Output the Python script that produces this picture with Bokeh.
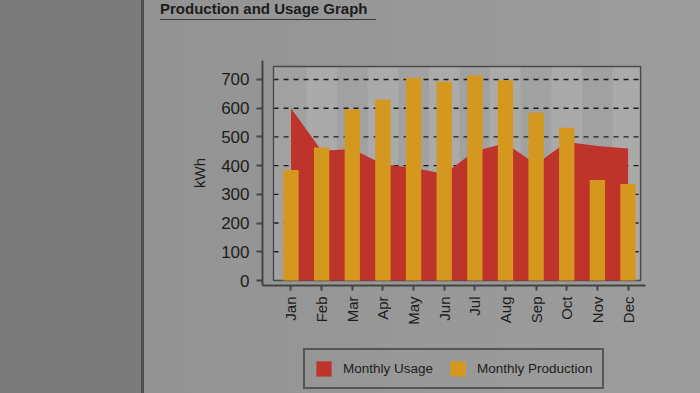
import math
from bokeh.plotting import figure
from bokeh.layouts import column
from bokeh.models import Range1d, FixedTicker, Legend, LegendItem, Div
from bokeh.embed import file_html
from bokeh.resources import INLINE

months = ["Jan", "Feb", "Mar", "Apr", "May", "Jun", "Jul", "Aug", "Sep", "Oct", "Nov", "Dec"]
usage = [600, 452, 458, 405, 392, 372, 450, 478, 405, 482, 468, 460]
production = [385, 463, 595, 630, 705, 692, 714, 697, 584, 532, 350, 336]
y_ticks = [0, 100, 200, 300, 400, 500, 600, 700]
grid_values = [100, 200, 300, 400, 500, 600, 700]
series_names = ["Monthly Usage", "Monthly Production"]

RED = "#be342a"
ORANGE = "#d5981e"
TXT = "#1c1c1c"

xs = list(range(len(months)))

title = Div(text="Production and Usage Graph", width=216, height=20, margin=(0, 0, 0, 160),
            styles={"font-family": "Liberation Sans", "font-size": "15px",
                    "font-weight": "bold", "color": TXT, "line-height": "18px",
                    "border-bottom": "1.2px solid #3a3a3a"})

p = figure(width=700, height=320, output_backend="svg", toolbar_location=None,
           x_range=Range1d(-0.93, 11.57), y_range=Range1d(-17.4, 766),
           min_border_left=262, min_border_right=55, min_border_top=40, min_border_bottom=55,
           background_fill_alpha=0, border_fill_alpha=0, outline_line_color=None)
p.grid.visible = False

# inner plot box
IL, IR, IT = -0.57, 11.41, 745
p.quad(left=IL, right=IR, bottom=0, top=IT, fill_color="#aaaaaa", line_color=None)
band_l = [max(i - 0.5, IL) for i in xs[::2]]
band_r = [i + 0.5 for i in xs[::2]]
p.quad(left=band_l, right=band_r, bottom=0, top=IT, fill_color="#a1a1a1", line_color=None)
p.segment(x0=IL, x1=IR, y0=grid_values, y1=grid_values, line_color="#1a1a1a",
          line_width=1.4, line_dash="5 5")
p.quad(left=IL, right=IR, bottom=0, top=IT, fill_color=None, line_color="#4a4a4a", line_width=1.5)

area = p.varea(x=xs, y1=0, y2=usage, fill_color=RED)
bars = p.vbar(x=xs, top=production, width=0.5, fill_color=ORANGE, line_color=None)

# axes
p.xaxis.ticker = FixedTicker(ticks=xs)
p.xaxis.major_label_overrides = {i: m for i, m in enumerate(months)}
p.xaxis.major_label_orientation = math.pi / 2
p.xaxis.minor_tick_line_color = None
p.xaxis.major_tick_in = 0
p.xaxis.major_tick_out = 5
p.xaxis.major_label_standoff = 6

p.yaxis.ticker = FixedTicker(ticks=y_ticks)
p.yaxis.minor_tick_line_color = None
p.yaxis.major_tick_in = 0
p.yaxis.major_tick_out = 6
p.yaxis.major_label_standoff = 7
p.yaxis.axis_label = "kWh"
p.yaxis.axis_label_standoff = 10
p.yaxis.axis_label_text_font_style = "normal"
p.yaxis.axis_label_text_font_size = "15px"
p.yaxis.axis_label_text_font = "Liberation Sans"
p.yaxis.axis_label_text_color = TXT

for ax in (p.xaxis, p.yaxis):
    ax.axis_line_color = "#444444"
    ax.axis_line_width = 2
    ax.major_tick_line_color = "#444444"
    ax.major_tick_line_width = 2
    ax.major_label_text_font = "Liberation Sans"
    ax.major_label_text_color = TXT
p.xaxis.major_label_text_font_size = "15px"
p.yaxis.major_label_text_font_size = "17px"

# legend strip: a separate figure (its frame is aligned with the chart frame by the column);
# the series are drawn there fully out of view so the legend has real renderers
lg = figure(width=700, height=53, output_backend="svg", toolbar_location=None,
            x_range=Range1d(100, 101), y_range=Range1d(5000, 5001),
            x_axis_location=None, y_axis_location=None,
            min_border=0, background_fill_alpha=0, border_fill_alpha=0, outline_line_color=None)
lg.grid.visible = False
proxy_usage = lg.varea(x=xs, y1=0, y2=usage, fill_color=RED)
proxy_prod = lg.vbar(x=xs, top=production, width=0.5, fill_color=ORANGE, line_color=None)

legend = Legend(items=[LegendItem(label=series_names[0], renderers=[proxy_usage]),
                       LegendItem(label=series_names[1], renderers=[proxy_prod])],
                orientation="horizontal", location=(41, 4),
                glyph_width=19, glyph_height=19, label_standoff=10, spacing=15,
                padding=9, margin=0,
                label_text_font="Liberation Sans", label_text_font_size="13.5px",
                label_text_color=TXT, border_line_color="#111111", border_line_width=2.5,
                background_fill_alpha=0)
lg.add_layout(legend, "center")

layout = column(title, p, lg, spacing=0)

html = file_html(layout, INLINE)
style = ("<style>html,body{margin:0!important;padding:0;overflow:hidden;"
         "background:linear-gradient(to right,#7b7b7b 0px,#7b7b7b 141px,"
         "#4f4f4f 141px,#4f4f4f 144px,#939393 144px,#9d9d9d 100%);}</style></head>")
html = html.replace("</head>", style, 1)
open("out.html", "w").write(html)
